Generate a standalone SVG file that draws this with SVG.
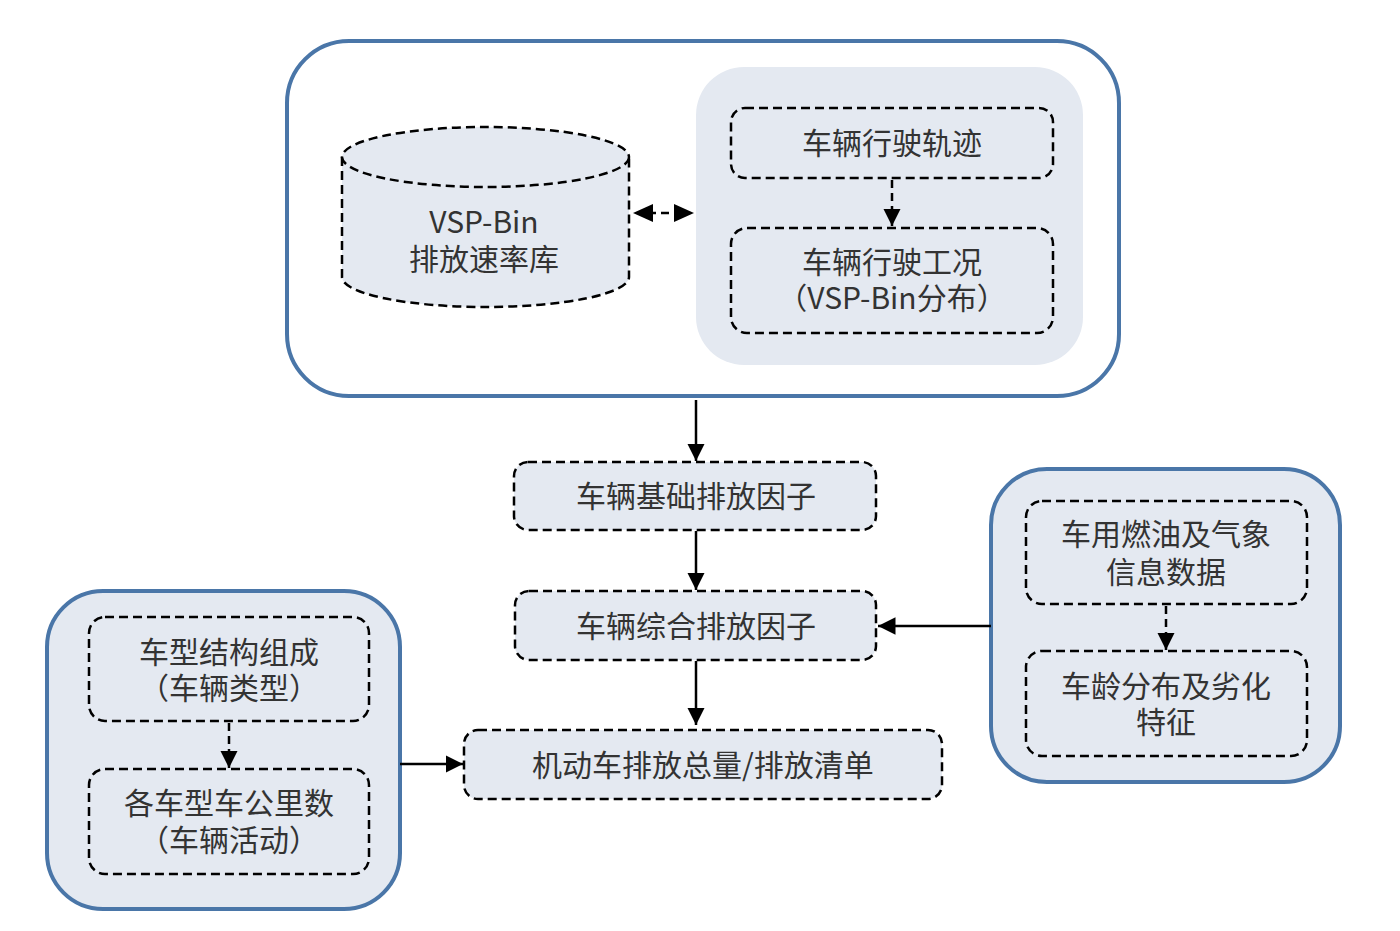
<svg xmlns="http://www.w3.org/2000/svg" width="1400" height="931" viewBox="0 0 1400 931">
<defs>
<marker id="ah" viewBox="0 0 10 10" refX="10" refY="5" markerWidth="7" markerHeight="7" markerUnits="strokeWidth" orient="auto-start-reverse">
<path d="M0,0 L10,5 L0,10 z" fill="#000"/>
</marker>
</defs>
<style>
.group{fill:#e4e9f1;stroke:#4a76a8;stroke-width:4}
.outer{fill:#fff;stroke:#4a76a8;stroke-width:4}
.panel{fill:#e4e9f1;stroke:none}
.box{fill:#e4e9f1;stroke:#000;stroke-width:2.5;stroke-dasharray:9 5}
.t{font-family:"Noto Sans CJK SC","Noto Sans",sans-serif;font-size:30px;fill:#333;text-anchor:middle;dominant-baseline:central;text-spacing-trim:space-all}
.p{font-family:"Noto Sans CJK TC","Noto Sans CJK SC",sans-serif}
.c{stroke:#000;stroke-width:2.5;fill:none}
.d{stroke:#000;stroke-width:2.5;fill:none;stroke-dasharray:8 5}
</style>
<g id="top-group">
<rect class="outer" x="287" y="41" width="832" height="355" rx="62"/>
<rect class="panel" x="696" y="67" width="387" height="298" rx="48"/>
</g>
<g id="vsp-db">
<path class="box" d="M342,157 L342,277 A143.5,30 0 0 0 629,277 L629,157"/>
<ellipse class="box" cx="485.5" cy="157" rx="143.5" ry="30"/>
<text class="t" x="484" y="220">VSP-Bin</text>
<text class="t" x="484" y="257">排放速率库</text>
</g>
<g id="trajectory">
<rect class="box" x="731" y="108" width="322" height="70" rx="14"/>
<text class="t" x="892" y="141">车辆行驶轨迹</text>
</g>
<g id="condition">
<rect class="box" x="731" y="228" width="322" height="105" rx="16"/>
<text class="t" x="892" y="260">车辆行驶工况</text>
<text class="t" x="892" y="296"><tspan class="p">（</tspan>VSP-Bin分布<tspan class="p">）</tspan></text>
</g>
<g id="base-factor">
<rect class="box" x="514" y="462" width="362" height="68" rx="14"/>
<text class="t" x="696" y="494">车辆基础排放因子</text>
</g>
<g id="combined-factor">
<rect class="box" x="515" y="591" width="361" height="69" rx="14"/>
<text class="t" x="696" y="624">车辆综合排放因子</text>
</g>
<g id="inventory">
<rect class="box" x="464" y="730" width="478" height="69" rx="14"/>
<text class="t" x="703" y="763">机动车排放总量/排放清单</text>
</g>
<g id="left-group">
<rect class="group" x="47" y="591" width="353" height="318" rx="56"/>
</g>
<g id="vehicle-type">
<rect class="box" x="89" y="617" width="280" height="104" rx="16"/>
<text class="t" x="229" y="650">车型结构组成</text>
<text class="t" x="229" y="686"><tspan class="p">（</tspan>车辆类型<tspan class="p">）</tspan></text>
</g>
<g id="vkt">
<rect class="box" x="89" y="769" width="280" height="105" rx="16"/>
<text class="t" x="229" y="801">各车型车公里数</text>
<text class="t" x="229" y="838"><tspan class="p">（</tspan>车辆活动<tspan class="p">）</tspan></text>
</g>
<g id="right-group">
<rect class="group" x="991" y="469" width="349" height="313" rx="56"/>
</g>
<g id="fuel">
<rect class="box" x="1026" y="501" width="281" height="103" rx="16"/>
<text class="t" x="1166" y="532">车用燃油及气象</text>
<text class="t" x="1166" y="570">信息数据</text>
</g>
<g id="age">
<rect class="box" x="1026" y="651" width="281" height="105" rx="16"/>
<text class="t" x="1166" y="684">车龄分布及劣化</text>
<text class="t" x="1166" y="720">特征</text>
</g>
<g id="connectors">
<line class="d" x1="648" y1="213" x2="679" y2="213"/>
<path d="M633,213 L653,204 L653,222 z" fill="#000"/>
<path d="M694,213 L674,204 L674,222 z" fill="#000"/>
<line class="d" x1="892" y1="180" x2="892" y2="226" marker-end="url(#ah)"/>
<line class="c" x1="696" y1="400" x2="696" y2="461" marker-end="url(#ah)"/>
<line class="c" x1="696" y1="531" x2="696" y2="590" marker-end="url(#ah)"/>
<line class="c" x1="696" y1="661" x2="696" y2="725" marker-end="url(#ah)"/>
<line class="d" x1="229" y1="723" x2="229" y2="768" marker-end="url(#ah)"/>
<line class="c" x1="400" y1="764" x2="463" y2="764" marker-end="url(#ah)"/>
<line class="d" x1="1166" y1="606" x2="1166" y2="650" marker-end="url(#ah)"/>
<line class="c" x1="991" y1="626" x2="878" y2="626" marker-end="url(#ah)"/>
</g>
</svg>
